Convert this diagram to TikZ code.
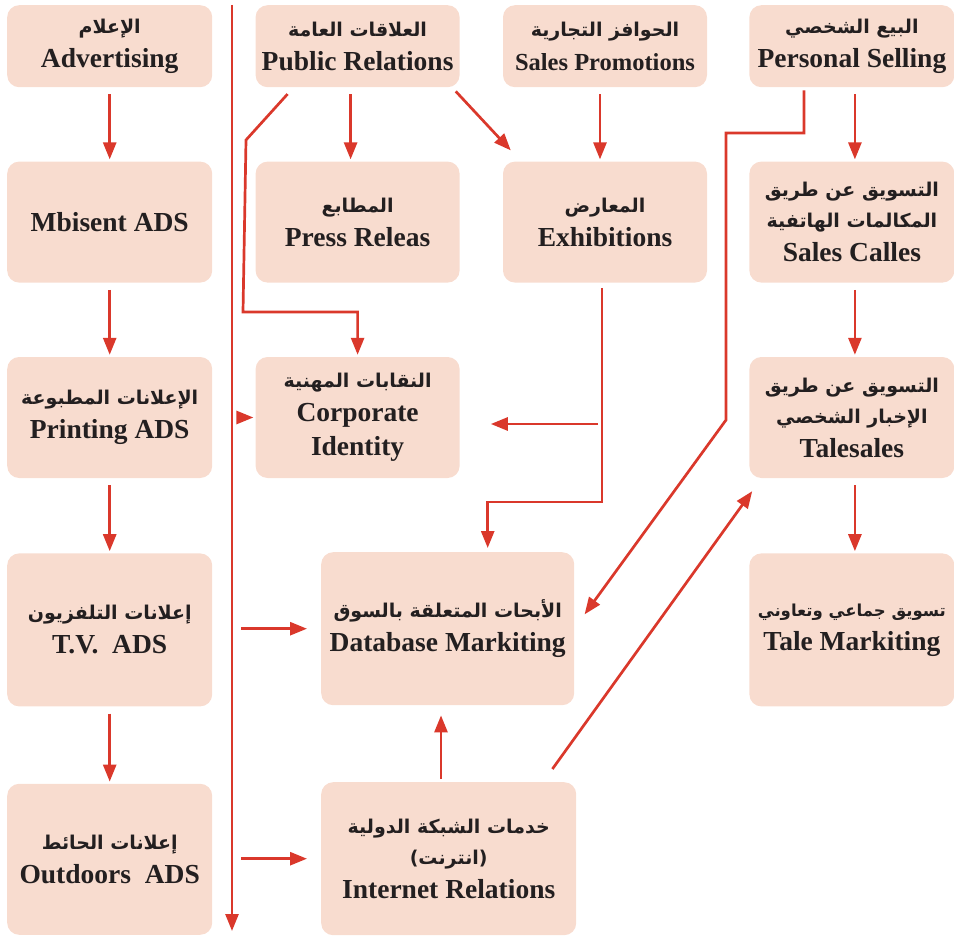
\documentclass[tikz,border=0pt]{standalone}
\usepackage{fontspec}
\setmainfont{Liberation Serif}
\newfontfamily\arabicfont[Script=Arabic]{DejaVu Sans}
\TeXXeTstate=1
\usetikzlibrary{positioning,arrows.meta}

\definecolor{boxfill}{RGB}{248,220,207}
\definecolor{linkred}{RGB}{218,56,43}
\definecolor{inkblack}{RGB}{35,31,32}
\newcommand{\artext}[2][19]{{\arabicfont\fontsize{#1}{24}\selectfont\beginR #2\endR}}

\begin{document}
\begin{tikzpicture}[
    x=1pt, y=-1pt,
    font=\fontsize{27.5}{34}\selectfont\bfseries,
    box/.style={fill=boxfill, rounded corners=12pt, align=center, text=inkblack,
                inner sep=2pt, minimum width=204pt},
    rowtop/.style={box, minimum height=82pt},
    rowmid/.style={box, minimum height=121pt},
    rowtall/.style={box, minimum height=153pt},
    arr/.style={-{Triangle[length=17pt,width=13pt]}, line width=2.7pt, linkred,
                shorten <=7pt, shorten >=2pt},
  ]
  \useasboundingbox (0,0) rectangle (954,936);

  % ===== advertising column (left) =====
  \node[rowtop, anchor=north west, minimum width=205pt] (Adv) at (7,5)
    {\artext{الإعلام}\\Advertising};
  \node[rowmid, below=74pt of Adv, minimum width=205pt] (Mbs) {Mbisent ADS};
  \node[rowmid, below=74pt of Mbs, minimum width=205pt] (Prn)
    {\artext{الإعلانات المطبوعة}\\Printing ADS};
  \node[rowtall, below=75pt of Prn, minimum width=205pt] (TV)
    {\artext{إعلانات التلفزيون}\\T.V.~~ADS};
  \node[rowtall, below=77pt of TV, minimum width=205pt, minimum height=151pt] (Out)
    {\artext{إعلانات الحائط}\\Outdoors~~ADS};

  % ===== public relations / promotions =====
  \node[rowtop, right=43pt of Adv] (PR) {\artext{العلاقات العامة}\\Public Relations};
  \node[rowmid, below=74pt of PR] (Prs) {\artext{المطابع}\\Press Releas};
  \node[rowmid, below=74pt of Prs] (Corp) {\artext{النقابات المهنية}\\Corporate\\Identity};
  \node[rowtop, right=43pt of PR] (SP)
    {\artext{الحوافز التجارية}\\{\fontsize{24.5}{34}\selectfont Sales Promotions}};
  \node[rowmid, below=74pt of SP] (Exh) {\artext{المعارض}\\Exhibitions};

  % ===== personal selling column (right) =====
  \node[rowtop, right=42pt of SP, minimum width=205pt] (PS)
    {\artext{البيع الشخصي}\\Personal Selling};
  \node[rowmid, below=74pt of PS, minimum width=205pt] (SC)
    {\artext{التسويق عن طريق}\\[-3pt]\artext{المكالمات الهاتفية}\\Sales Calles};
  \node[rowmid, below=74pt of SC, minimum width=205pt] (TS)
    {\artext{التسويق عن طريق}\\[-3pt]\artext{الإخبار الشخصي}\\Talesales};
  \node[rowtall, below=75pt of TS, minimum width=205pt] (TM)
    {\artext[16.5]{تسويق جماعي وتعاوني}\\Tale Markiting};

  % ===== market research and internet =====
  \node[box, anchor=north west, minimum width=253pt, minimum height=153pt] (DB) at (321,552)
    {\artext{الأبحات المتعلقة بالسوق}\\Database Markiting};
  \node[box, anchor=north west, minimum width=255pt, minimum height=153pt] (IR) at (321,782)
    {\artext{خدمات الشبكة الدولية}\\[-3pt]\artext{(انترنت)}\\Internet Relations};

  % ===== bend points =====
  \coordinate (vtop) at (232,5);
  \coordinate (vbot) at (232,931);
  \coordinate (prA) at (246,140);
  \coordinate (prB) at (243,312);
  \coordinate (psA) at (726,133);
  \coordinate (psB) at (726,420);
  \coordinate (exA) at (602,502);
  \coordinate (exB) at (598,424);
  \coordinate (irA) at (441,0);

  % ===== arrows =====
  \draw[arr] (Adv) -- (Mbs);
  \draw[arr] (Mbs) -- (Prn);
  \draw[arr] (Prn) -- (TV);
  \draw[arr] (TV) -- (Out);
  \draw[arr, shorten <=0pt, shorten >=0pt] (vtop) -- (vbot);
  \draw[arr, shorten <=5pt] (vtop |- Corp.west) -- (Corp.west);
  \draw[arr, shorten <=9pt, shorten >=14pt] (vtop |- DB.west) -- (DB.west);
  \draw[arr, shorten <=9pt, shorten >=14pt] (vtop |- IR.west) -- (IR.west);

  \draw[arr] ([xshift=-7pt]PR.south) -- ([xshift=-7pt]Prs.north);
  \draw[arr, shorten <=9pt] ([xshift=-64pt]PR.south) -- (prA) -- (prB) -| (Corp.north);
  \draw[arr, shorten <=0pt, shorten >=0pt] ([shift={(-4,4)}]PR.south east)
        -- ([shift={(8,-11)}]Exh.north west);
  \draw[arr] ([xshift=-5pt]SP.south) -- ([xshift=-5pt]Exh.north);
  \draw[arr, shorten <=5pt, shorten >=4pt] (Exh.south -| exA) -- (exA) -| ([xshift=40pt]DB.north);
  \draw[arr, shorten <=0pt, shorten >=31pt] (exB) -- (exB -| Corp.east);

  \draw[arr, shorten <=3pt] ([xshift=-48pt]PS.south) |- (psA) -- (psB)
        -- ([shift={(9,64)}]DB.north east);
  \draw[arr] ([xshift=3pt]PS.south) -- ([xshift=3pt]SC.north);
  \draw[arr] ([xshift=3pt]SC.south) -- ([xshift=3pt]TS.north);
  \draw[arr] ([xshift=3pt]TS.south) -- ([xshift=3pt]TM.north);

  \draw[arr, shorten <=3pt, shorten >=10pt] (irA |- IR.north) -- (irA |- DB.south);
  \draw[arr, shorten <=0pt, shorten >=0pt] ([shift={(-24,-13)}]IR.north east)
        -- ([shift={(3,13)}]TS.south west);

\end{tikzpicture}
\end{document}
